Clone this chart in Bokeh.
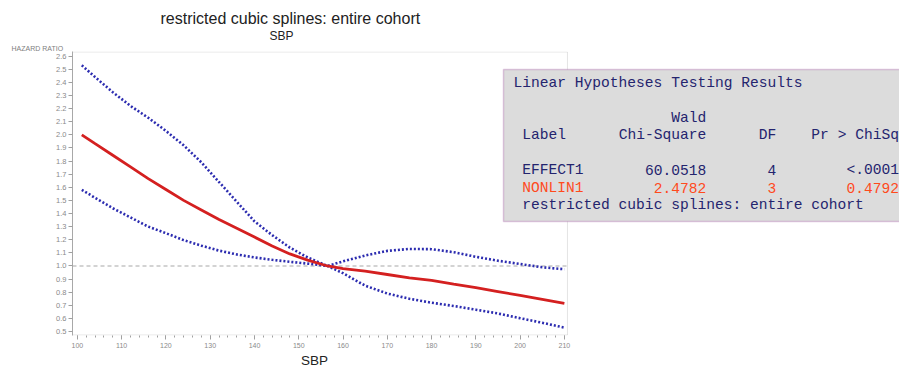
from bokeh.plotting import figure
from bokeh.models import Range1d, Label, BoxAnnotation, FixedTicker, NumeralTickFormatter, Title
from bokeh.embed import file_html
from bokeh.resources import INLINE

# ---- data ----
sbp = [101, 104, 108, 112, 116, 120, 124, 128, 132, 136, 140, 144, 148, 152, 156.5,
       160, 165, 170, 175, 180, 185, 190, 195, 200, 205, 210]
hr = [2.00, 1.933, 1.844, 1.755, 1.666, 1.583, 1.50, 1.427, 1.354, 1.287, 1.22, 1.152, 1.092, 1.045, 1.0,
      0.98, 0.96, 0.935, 0.91, 0.89, 0.862, 0.835, 0.805, 0.775, 0.745, 0.715]
hr_upper = [2.53, 2.44, 2.325, 2.22, 2.13, 2.03, 1.92, 1.79, 1.64, 1.49, 1.34, 1.235, 1.14, 1.065, 1.0,
            1.035, 1.08, 1.115, 1.13, 1.128, 1.105, 1.07, 1.04, 1.015, 0.99, 0.975]
hr_lower = [1.58, 1.52, 1.44, 1.37, 1.30, 1.25, 1.197, 1.155, 1.117, 1.088, 1.065, 1.047, 1.032, 1.018, 1.0,
            0.945, 0.85, 0.79, 0.75, 0.72, 0.695, 0.667, 0.638, 0.602, 0.567, 0.53]
reference_hr = 1.0

x_ticks = [100, 110, 120, 130, 140, 150, 160, 170, 180, 190, 200, 210]
x_minor = [100, 102, 104, 106, 108, 110, 112, 114, 116, 118, 120, 122, 124, 126, 128, 130,
           132, 134, 136, 138, 140, 142, 144, 146, 148, 150, 152, 154, 156, 158, 160, 162,
           164, 166, 168, 170, 172, 174, 176, 178, 180, 182, 184, 186, 188, 190, 192, 194,
           196, 198, 200, 202, 204, 206, 208, 210]
y_ticks = [0.5, 0.6, 0.7, 0.8, 0.9, 1.0, 1.1, 1.2, 1.3, 1.4, 1.5, 1.6, 1.7, 1.8, 1.9,
           2.0, 2.1, 2.2, 2.3, 2.4, 2.5, 2.6]

title_text = "restricted cubic splines: entire cohort"
subtitle_text = "SBP"
x_label = "SBP"
y_label = "HAZARD RATIO"

table_title = "Linear Hypotheses Testing Results"
col_headers = ["Label", "Chi-Square", "DF", "Pr > ChiSq"]
row_labels = ["EFFECT1", "NONLIN1"]
chi_square = ["60.0518", "2.4782"]
dfs = ["4", "3"]
p_values = ["<.0001", "0.4792"]
table_footer = "restricted cubic splines: entire cohort"

# ---- layout constants (page pixels) ----
W, H = 899, 367
FL, FT, FB = 72, 51, 335      # frame left / top / bottom
X0, X1 = 98.9, 210.7          # visible plot box
PX_PER_X = 4.4275
XEND = X0 + (W - FL) / PX_PER_X
Y0, Y1 = 0.47, 2.635

p = figure(width=W, height=H, output_backend="svg", toolbar_location=None,
           x_range=Range1d(X0, XEND), y_range=Range1d(Y0, Y1),
           min_border_left=FL, min_border_right=0, min_border_top=FT,
           min_border_bottom=H - FB)
p.grid.visible = False
p.outline_line_color = None

for ax in (p.xaxis[0], p.yaxis[0]):
    ax.axis_line_color = "#a8a8a8"
    ax.major_tick_line_color = "#a0a0a0"
    ax.minor_tick_line_color = "#a0a0a0"
    ax.major_label_text_color = "#8a8a8a"
    ax.major_label_text_font = "Liberation Sans"
    ax.major_tick_in = 0
    ax.minor_tick_in = 0

p.xaxis.axis_line_color = None
p.xaxis.ticker = FixedTicker(ticks=x_ticks, minor_ticks=x_minor)
p.xaxis.major_tick_out = 4
p.xaxis.minor_tick_out = 2
p.xaxis.major_label_text_font_size = "7px"
p.xaxis.major_label_standoff = 3

p.yaxis.ticker = FixedTicker(ticks=y_ticks)
p.yaxis.formatter = NumeralTickFormatter(format="0.0")
p.yaxis.major_tick_out = 4
p.yaxis.major_label_text_font_size = "7.5px"
p.yaxis.major_label_standoff = 2

# titles in the side panels (not clipped by the frame); left-aligned with pixel offsets
def title(text, where, size, left, color="#222222"):
    t = Title(text=text, align="left", offset=left - FL)
    t.text_font_size = size
    t.text_font_style = "normal"
    t.text_font = "Liberation Sans"
    t.text_color = color
    t.standoff = 0
    p.add_layout(t, where)

title(y_label, "above", "7px", 11, color="#808080")
title(subtitle_text, "above", "12px", 269)
title(title_text, "above", "16px", 160)
title(x_label, "below", "13.5px", 300.5)

eps = 0.5 * (Y1 - Y0) / (FB - FT)
p.add_layout(BoxAnnotation(left=X0, right=X1, bottom=Y0 + eps, top=Y1 - eps,
                           fill_alpha=0, line_color="#a8a8a8", line_width=1))

p.segment(x0=[X0], x1=[X1], y0=[reference_hr], y1=[reference_hr],
          line_color="#a8a8a8", line_dash="4 3", line_width=1.2)

p.line(sbp, hr_upper, line_color="#2c2cb0", line_width=2.6, line_dash="2 2")
p.line(sbp, hr_lower, line_color="#2c2cb0", line_width=2.6, line_dash="2 2")
p.line(sbp, hr, line_color="#d42020", line_width=2.8)

# ---- table box ----
p.add_layout(BoxAnnotation(left=503, right=W + 20, top=69, bottom=221,
                           left_units="canvas", right_units="canvas",
                           top_units="canvas", bottom_units="canvas",
                           fill_color="#dcdcdc", fill_alpha=1.0,
                           line_color="#a050a0", line_width=1.5))

navy = "#24246e"
orange = "#ff4a1c"
cw = 8.76
tx0 = 513

def cell(text, col, row, align="left", color=navy):
    px = tx0 + col * cw
    py = 82.3 + row * 17.5
    p.add_layout(Label(x=X0, y=Y1, x_offset=px - FL, y_offset=FT - py, text=text,
                       text_font_size="14.6px", text_color=color, text_align=align,
                       text_baseline="middle", text_font="Liberation Mono"))

cell(table_title, 0, 0)
cell("Wald", 22, 2, align="right")
cell(col_headers[0], 1, 3)
cell(col_headers[1], 22, 3, align="right")
cell(col_headers[2], 30, 3, align="right")
cell(col_headers[3], 44, 3, align="right")
for k in range(len(row_labels)):
    c = navy if k == 0 else orange
    cell(row_labels[k], 1, 5 + k, color=c)
    cell(chi_square[k], 22, 5 + k, align="right", color=c)
    cell(dfs[k], 30, 5 + k, align="right", color=c)
    cell(p_values[k], 44, 5 + k, align="right", color=c)
cell(table_footer, 1, 7)

open("out.html", "w").write(file_html(p, INLINE))
